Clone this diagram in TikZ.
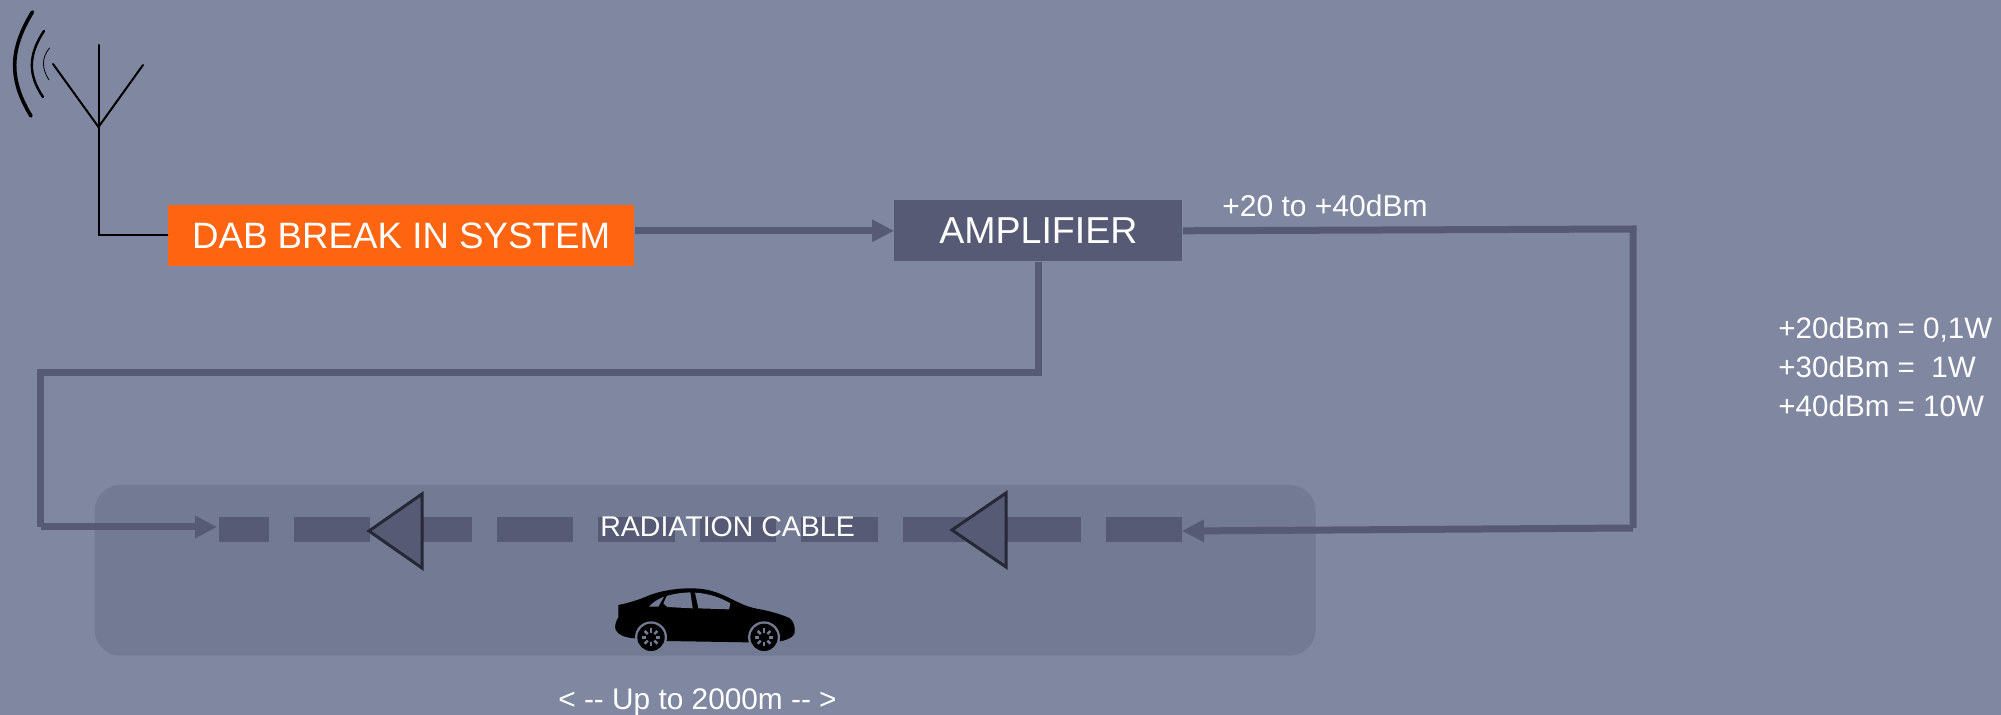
\documentclass[tikz,border=0pt]{standalone}
\usepackage{fontspec}
\setmainfont{Liberation Sans}
\usetikzlibrary{arrows.meta}
\definecolor{bgc}{RGB}{128,135,160}
\definecolor{panelc}{RGB}{115,122,147}
\definecolor{darkc}{RGB}{87,90,117}
\definecolor{orangec}{RGB}{255,100,17}
\definecolor{edgec}{RGB}{38,40,54}
\tikzset{
  x=0.5pt,y=-0.5pt,
  wire/.style={draw=darkc,line width=3.5pt,line join=miter},
  tip/.style={-{Triangle[length=11pt,width=10.6pt]}},
  box/.style={rectangle,inner sep=0pt,text=white,anchor=north west},
  label/.style={inner sep=0pt,text=white,anchor=base west},
  amptri/.style={draw=edgec,fill=darkc,line width=1.5pt,line join=miter},
  cable/.style={draw=darkc,line width=12.8pt,dash pattern=on 38.25pt off 12.5pt},
  antenna/.style={draw=black,line cap=round},
}
\begin{document}
\begin{tikzpicture}
\useasboundingbox (0,0) rectangle (2001,715);
\fill[bgc] (0,0) rectangle (2001,715);
% panel
\fill[panelc,rounded corners=13pt] (94.6,485) rectangle (1315.6,655.7);
% cable
\coordinate (cableR) at (1182,529.5);
\coordinate (cableL) at (219,529.5);
\draw[cable] (cableR) -- (cableL);
% boxes
\node[box,fill=orangec,minimum width=233.3pt,minimum height=30.5pt] (dab) at (167.4,204.5) {\fontsize{18.35pt}{22pt}\selectfont DAB BREAK IN SYSTEM};
\node[box,fill=darkc,minimum width=144pt,minimum height=30.4pt] (amp) at (894,200) {\fontsize{18.75pt}{22pt}\selectfont AMPLIFIER};
% antenna
\coordinate (mastTop) at (98.5,45);
\coordinate (fork) at (98.5,127);
\coordinate (armL) at (53,64);
\coordinate (armR) at (143,65);
\draw[antenna,line width=1pt] (mastTop) -- (fork |- dab.west) -- (dab.west);
\draw[antenna,line width=1pt] (armL) -- (fork) -- (armR);
\draw[antenna,line width=1.8pt] (32.5,12) .. controls (9,50) and (9,80) .. (31,116);
\draw[antenna,line width=1.2pt] (44,31) .. controls (28,55) and (28,75) .. (43,97);
\draw[antenna,line width=0.4pt] (49.5,48) .. controls (41.5,58) and (41.5,68) .. (49,80);
% connectors
\draw[wire,tip] (dab.east |- amp.west) -- (amp.west);
\coordinate (c1) at (1633,229);
\coordinate (c2) at (1633,528);
\coordinate (c3) at (1182,531);
\draw[wire] (amp.east) -- (c1) -- (c2);
\draw[wire,tip] (c2) -- (c3);
\coordinate (d1) at (1038,373);
\coordinate (d2) at (40.6,373);
\coordinate (d3) at (40.6,527);
\coordinate (d4) at (217,527);
\draw[wire] (d1 |- amp.south) -- (d1) -- (d2) -- (d3);
\draw[wire,tip] (d3) -- (d4);
% amplifier triangles
\filldraw[amptri] (369,531) -- (422,494) -- (422,568) -- cycle;
\filldraw[amptri] (952,530) -- (1006,493) -- (1006,567) -- cycle;
% texts
\node[label] (lblcable) at (600,537) {\fontsize{14.25pt}{17pt}\selectfont RADIATION CABLE};
\node[label] (lblpower) at (1222,217) {\fontsize{15pt}{17pt}\selectfont +20 to +40dBm};
\node[label] (lbl20) at (1778,339) {\fontsize{14.8pt}{17pt}\selectfont +20dBm = 0,1W};
\node[label] (lbl30) at (1778,378) {\fontsize{14.8pt}{17pt}\selectfont +30dBm =\ \ 1W};
\node[label] (lbl40) at (1778,416.5) {\fontsize{14.8pt}{17pt}\selectfont +40dBm = 10W};
\node[label] (lbllen) at (558,709) {\fontsize{14.9pt}{17pt}\selectfont < {-}{-} Up to 2000m {-}{-} >};
% car
\begin{scope}[shift={(550,560)},x=0.1667pt,y=-0.1667pt]
\fill[black] (205,135) .. controls (240,128) and (270,118) .. (300,105)
  .. controls (340,90) and (390,84) .. (430,85)
  .. controls (470,86) and (500,95) .. (540,115)
  .. controls (570,130) and (590,140) .. (620,146)
  .. controls (660,153) and (700,165) .. (720,175)
  .. controls (733,187) and (736,205) .. (733,222)
  .. controls (725,235) and (705,242) .. (688,244)
  -- (595,247) -- (350,243) -- (255,235)
  .. controls (225,233) and (205,225) .. (197,210)
  .. controls (193,198) and (197,185) .. (205,172) -- cycle;
\fill[panelc] (303,232) circle[radius=48];
\fill[panelc] (642,232) circle[radius=48];
\fill[black] (303,232) circle[radius=41];
\fill[black] (642,232) circle[radius=41];
\foreach \cx in {303,642}{
  \foreach \a in {0,45,...,315}{
    \draw[panelc,line width=1.3pt] ({\cx+14*cos(\a)},{232+14*sin(\a)}) -- ({\cx+27*cos(\a)},{232+27*sin(\a)});
  }
}
\fill[panelc] (297,140) .. controls (310,125) and (325,117) .. (342,110) -- (325,140) -- cycle;
\fill[panelc] (340,130) -- (350,108) .. controls (375,100) and (400,98) .. (421,97) -- (428,145) -- (352,141) -- cycle;
\fill[panelc] (435,98) .. controls (475,100) and (510,112) .. (541,130) -- (537,148) -- (445,145) -- cycle;
\end{scope}
\end{tikzpicture}
\end{document}
